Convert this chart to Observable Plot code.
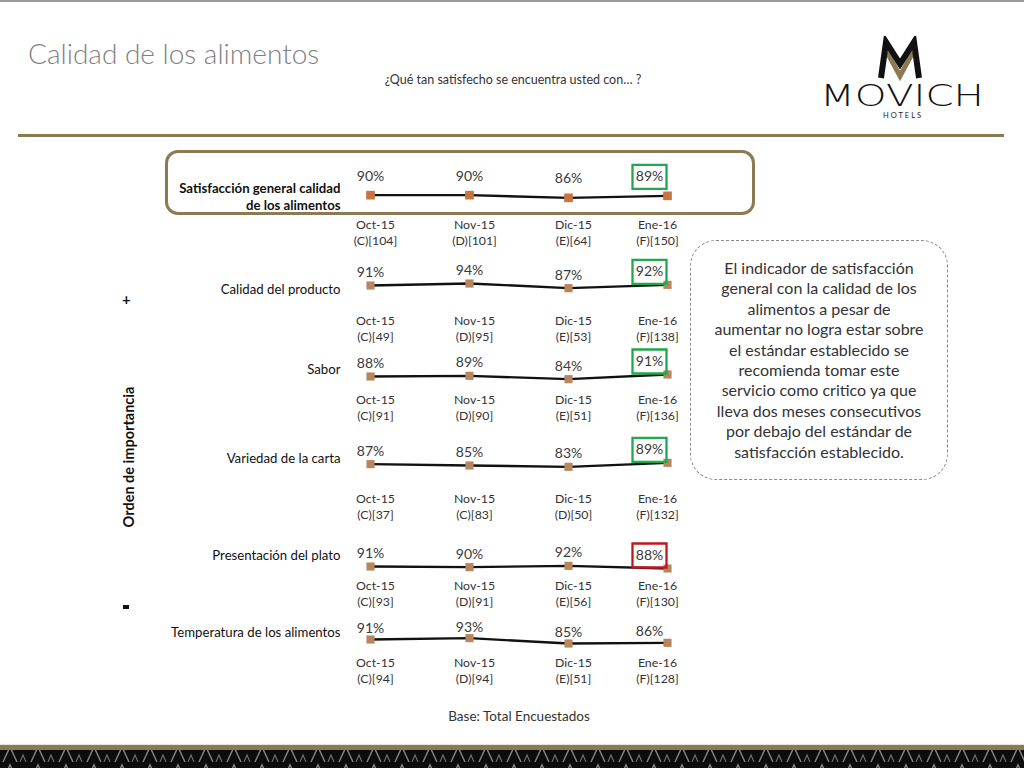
<!DOCTYPE html>
<html><head><meta charset="utf-8">
<script src="https://cdn.jsdelivr.net/npm/d3@7"></script>
<script src="https://cdn.jsdelivr.net/npm/@observablehq/plot@0.6"></script>
<style>
body{margin:0;background:#fff;}
#page{position:relative;width:1024px;height:768px;overflow:hidden;font-family:Lato,"Open Sans",sans-serif;color:#333;background:#fff;}
.abs{position:absolute;}
#topline{left:0;top:0;width:1024px;height:2px;background:#9a9a9a;}
#title{left:28px;top:36px;font-size:28px;font-weight:300;color:#7f7f7f;white-space:nowrap;}
#subtitle{left:0;width:1026px;top:72px;text-align:center;font-size:12.5px;color:#333;}
#rule{left:18px;top:134px;width:986px;height:3px;background:#8b7b55;}
#hlbox{left:165px;top:150px;width:584px;height:59px;border:3px solid #8b7b55;border-radius:13px;}
#note{left:690px;top:240px;width:258px;height:240px;border:1px dashed #8a8a8a;border-radius:26px;text-align:center;font-size:16px;line-height:20.4px;color:#333;box-sizing:border-box;padding-top:17px;white-space:nowrap;}
#axislabel{left:128px;top:457px;transform:translate(-50%,-50%) rotate(-90deg);font-size:14.5px;font-weight:bold;color:#111;white-space:nowrap;}
#plus{left:122px;top:290px;font-size:15px;font-weight:bold;color:#111;}
#minus{left:123px;top:593px;width:6px;height:4px;background:#111;margin-top:12px;}
#base{left:0;width:1038px;top:708px;text-align:center;font-size:13.5px;color:#333;}
#footer{left:0;top:744px;}
#logo{left:815px;top:36px;}
</style></head>
<body><div id="page">
<div id="topline" class="abs"></div>
<div id="title" class="abs">Calidad de los alimentos</div>
<div id="subtitle" class="abs">¿Qué tan satisfecho se encuentra usted con… ?</div>
<svg id="logo" class="abs" width="175" height="86" viewBox="0 0 175 86">
  <polyline points="72,16 85,40 98,16" fill="none" stroke="#8b7b55" stroke-width="5" stroke-linejoin="miter"/>
  <polyline points="66,42 71,6 85,28 99,6 104,42" fill="none" stroke="#111" stroke-width="6" stroke-linejoin="miter"/>
  <text x="87" y="70" text-anchor="middle" font-family="'DejaVu Sans', Lato, sans-serif" font-weight="200" font-size="30" textLength="164" lengthAdjust="spacingAndGlyphs" fill="#111">MOVICH</text>
  <text x="88" y="82" text-anchor="middle" font-family="Lato, sans-serif" font-size="7.5" letter-spacing="2" fill="#222">HOTELS</text>
</svg>
<div id="rule" class="abs"></div>
<div id="hlbox" class="abs"></div>
<div id="note" class="abs">El indicador de satisfacción<br>general con la calidad de los<br>alimentos a pesar de<br>aumentar no logra estar sobre<br>el estándar establecido se<br>recomienda tomar este<br>servicio como critico ya que<br>lleva dos meses consecutivos<br>por debajo del estándar de<br>satisfacción establecido.</div>
<div id="axislabel" class="abs">Orden de importancia</div>
<div id="plus" class="abs">+</div>
<div id="minus" class="abs"></div>
<div id="base" class="abs">Base: Total Encuestados</div>
<svg id="footer" class="abs" width="1024" height="24">
  <defs>
    <pattern id="tri" x="0" y="0" width="28" height="18" patternUnits="userSpaceOnUse">
      <rect width="28" height="18" fill="#0c0c0c"/>
      <polyline points="3,18 10,3 17,18" fill="none" stroke="#858585" stroke-width="1.4"/>
      <polyline points="20,18 23,11 26,18" fill="none" stroke="#707070" stroke-width="1.1"/>
    </pattern>
  </defs>
  <rect x="0" y="0" width="1024" height="2" fill="#e8e4da"/>
  <rect x="0" y="1" width="1024" height="5" fill="#8b7b55"/>
  <rect x="0" y="6" width="1024" height="18" fill="url(#tri)"/>
</svg>
</div>
<script>
// ---- data ----
const months = ["Oct-15", "Nov-15", "Dic-15", "Ene-16"];
const attributes = [
  "Satisfacción general calidad\nde los alimentos",
  "Calidad del producto",
  "Sabor",
  "Variedad de la carta",
  "Presentación del plato",
  "Temperatura de los alimentos"
];
const values = [
  [90, 90, 86, 89],
  [91, 94, 87, 92],
  [88, 89, 84, 91],
  [87, 85, 83, 89],
  [91, 90, 92, 88],
  [91, 93, 85, 86]
];
const bases = [
  ["(C)[104]", "(D)[101]", "(E)[64]", "(F)[150]"],
  ["(C)[49]", "(D)[95]", "(E)[53]", "(F)[138]"],
  ["(C)[91]", "(D)[90]", "(E)[51]", "(F)[136]"],
  ["(C)[37]", "(C)[83]", "(D)[50]", "(F)[132]"],
  ["(C)[93]", "(D)[91]", "(E)[56]", "(F)[130]"],
  ["(C)[94]", "(D)[94]", "(E)[51]", "(F)[128]"]
];
const latestStatus = ["ok", "ok", "ok", "ok", "low", null];

// ---- layout (page pixels) ----
const rowLayout = [
  {top: 148, labelY: 195.5, monthY: 226, valueDy: -19},
  {top: 239, labelY: 288, monthY: 322, valueDy: -13},
  {top: 328, labelY: 368, monthY: 401, valueDy: -13},
  {top: 415, labelY: 457, monthY: 500, valueDy: -13},
  {top: 520, labelY: 554, monthY: 587, valueDy: -13},
  {top: 593, labelY: 631, monthY: 664, valueDy: -11}
];
const statusColor = {ok: "#1fa84d", low: "#c0171f"};
const boxSymbol = {draw(ctx) { ctx.moveTo(-17, -12); ctx.lineTo(17, -12); ctx.lineTo(17, 12); ctx.lineTo(-17, 12); ctx.closePath(); }};
const FRAME_MID = 50;
const page = document.getElementById("page");

attributes.forEach((attr, i) => {
  const L = rowLayout[i];
  const rows = months.map((m, j) => ({month: m, value: values[i][j], label: m + "\n" + bases[i][j]}));
  const earlier = rows.slice(0, 3), latest = rows.slice(3);
  const status = latestStatus[i];
  const monthDy = L.monthY - 8 - L.top - FRAME_MID;
  const chart = Plot.plot({
    width: 540, height: 120,
    marginLeft: 210, marginRight: 33, marginTop: 40, marginBottom: 60,
    style: {background: "transparent", fontFamily: "Lato, 'Open Sans', sans-serif", overflow: "visible"},
    x: {type: "point", domain: months, padding: 0, axis: null},
    y: {domain: [70, 100], axis: null},
    marks: [
      Plot.text([attr], {frameAnchor: "left", text: d => d, dx: -30, dy: L.labelY - L.top - FRAME_MID,
        textAnchor: "end", lineAnchor: "middle", lineHeight: 1.3, fontSize: 13.2,
        fontWeight: i === 0 ? "bold" : "normal", fill: "#111"}),
      Plot.line(rows, {x: "month", y: "value", stroke: "#111", strokeWidth: 2.4}),
      Plot.dot(rows, {x: "month", y: "value", symbol: "square", r: i === 0 ? 4.9 : 4.6,
        fill: i === 0 ? "#c8743f" : "#b8865c", stroke: "none"}),
      Plot.text(earlier, {x: "month", y: "value", text: d => d.value + "%", dy: L.valueDy, fontSize: 14, fill: "#3a3a3a"}),
      Plot.text(latest, {x: "month", y: "value", text: d => d.value + "%", dx: -18, dy: L.valueDy, fontSize: 14, fill: "#3a3a3a"}),
      status ? Plot.dot(latest, {x: "month", y: "value", dx: -18, dy: L.valueDy, symbol: boxSymbol,
        fill: "none", stroke: statusColor[status], strokeWidth: 2.3}) : null,
      Plot.text(earlier, {x: "month", text: "label", dx: 5, dy: monthDy, lineAnchor: "top", lineHeight: 1.25, fontSize: 12.3, fill: "#333"}),
      Plot.text(latest, {x: "month", text: "label", dx: -10, dy: monthDy, lineAnchor: "top", lineHeight: 1.25, fontSize: 12.3, fill: "#333"})
    ]
  });
  chart.style.position = "absolute";
  chart.style.left = "160px";
  chart.style.top = L.top + "px";
  page.appendChild(chart);
});
</script>
</body></html>
